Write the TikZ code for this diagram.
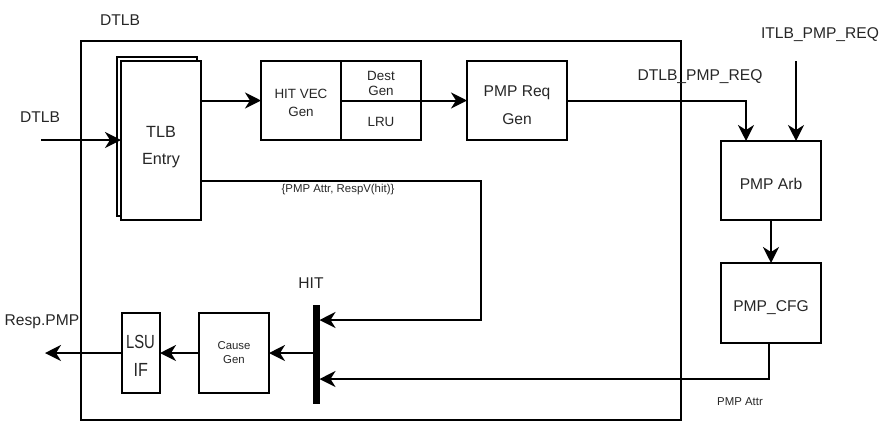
\documentclass[tikz,border=0pt]{standalone}
\usepackage{fontspec}
\setmainfont{Liberation Sans}
\usetikzlibrary{arrows.meta}
\begin{document}
\begin{tikzpicture}[x=1pt,y=-1pt,
  box/.style={draw=black,line width=2pt,inner sep=0pt,outer sep=0pt,rectangle},
  bigtxt/.style={font=\fontsize{15.6}{18}\selectfont},
  midtxt/.style={font=\fontsize{13.4}{16}\selectfont},
  smalltxt/.style={font=\fontsize{11.4}{13}\selectfont},
  lbl/.style={inner sep=0pt,text=black!85},
  t/.style={lbl,anchor=base},
  arr/.style={line width=2pt,-{Stealth[length=16pt,width=16pt,inset=5pt]}},
  plain/.style={line width=2pt}]
\useasboundingbox (0,0) rectangle (882,424);
% outer DTLB box
\node[box,minimum width=600pt,minimum height=379pt] (outer) at (381,230.5) {};
\node[lbl,bigtxt] (dtlbtitle) at (120,20) {DTLB};
% TLB entry (stacked)
\node[box,fill=white,minimum width=80pt,minimum height=159pt] (tlbback) at (157,136.5) {};
\node[box,fill=white,minimum width=80pt,minimum height=159pt] (tlb) at (161,140.5) {};
\node[t,font=\fontsize{16.2}{18}\selectfont] (tlbt1) at (161,137.7) {TLB};
\node[t,font=\fontsize{16.2}{18}\selectfont] (tlbt2) at (161,164.3) {Entry};
% HIT VEC / Dest Gen / LRU
\node[box,minimum width=80pt,minimum height=79pt] (hitvec) at (301,100.5) {};
\node[t,midtxt] (hitvect1) at (301,98.7) {HIT VEC};
\node[t,midtxt] (hitvect2) at (301,116) {Gen};
\node[box,minimum width=80pt,minimum height=40pt] (dest) at (381,81) {};
\node[t,midtxt] (destt1) at (381,80) {Dest};
\node[t,midtxt] (destt2) at (381,95.5) {Gen};
\node[box,minimum width=80pt,minimum height=39pt] (lru) at (381,120.5) {};
\node[t,midtxt] (lrut) at (381,126) {LRU};
% PMP Req Gen
\node[box,minimum width=100pt,minimum height=79pt] (pmpreq) at (517,100.5) {};
\node[t,bigtxt] (pmpreqt1) at (517,96) {PMP Req};
\node[t,bigtxt] (pmpreqt2) at (517,124.3) {Gen};
% PMP Arb & CFG
\node[box,minimum width=100pt,minimum height=79pt] (pmparb) at (771,180.5) {};
\node[t,bigtxt] (pmparbt) at (771,189.3) {PMP Arb};
\node[box,minimum width=100pt,minimum height=80pt] (pmpcfg) at (771,303) {};
\node[t,bigtxt] (pmpcfgt) at (771,311.5) {PMP\_CFG};
% HIT bar
\node[fill=black,inner sep=0pt,outer sep=0pt,minimum width=7pt,minimum height=99pt] (hitbar) at (316,354.5) {};
\node[lbl,bigtxt] (hitlbl) at (311,283) {HIT};
% Cause Gen, LSU IF
\node[box,minimum width=70pt,minimum height=80pt] (cause) at (234,353) {};
\node[t,smalltxt] (causet1) at (234,349.3) {Cause};
\node[t,smalltxt] (causet2) at (234,363.3) {Gen};
\node[box,minimum width=38pt,minimum height=80pt] (lsu) at (141,353) {};
\node[t,font=\fontsize{19}{20}\selectfont] (lsut1) at (140.5,348.3) {\scalebox{0.78}[1]{LSU}};
\node[t,font=\fontsize{19}{20}\selectfont] (lsut2) at (140.8,376.7) {\scalebox{0.85}[1]{IF}};
% labels
\node[lbl,bigtxt] (dtlbinlbl) at (40,117) {DTLB};
\node[lbl,bigtxt] (itlblbl) at (820,35) {ITLB\_PMP\_REQ};
\node[lbl,bigtxt] (dtlbreqlbl) at (700,77) {DTLB\_PMP\_REQ};
\node[lbl,smalltxt] (attrlbl) at (338,190) {\{PMP Attr, RespV(hit)\}};
\node[lbl,smalltxt] (pmpattrlbl) at (740,402) {PMP Attr};
\node[lbl,bigtxt] (resplbl) at (42,322) {Resp.PMP};
% coordinates
\coordinate (dtlbin) at (41,140);
\coordinate (itlbin) at (796,61);
\coordinate (respout) at (45,353);
\coordinate (yattr) at (0,181);
\coordinate (xattr) at (481,0);
\coordinate (yhit1) at (0,320);
\coordinate (ypmpattr) at (0,379);
% connectors
\draw[arr] (dtlbin) -- (tlb.west |- dtlbin);
\draw[arr] (hitvec.west -| tlb.east) -- (hitvec.west);
\draw[arr] (pmpreq.west -| lru.east) -- (pmpreq.west);
\draw[arr] (pmpreq.east) -| ([xshift=-25pt]pmparb.north);
\draw[arr,line width=1.6pt] (itlbin) -- (itlbin |- pmparb.north);
\draw[arr] (pmparb.south) -- (pmpcfg.north);
\draw[arr] ([xshift=-2pt]pmpcfg.south) |- (hitbar.east |- ypmpattr);
\draw[arr] (tlb.east |- yattr) -| (xattr |- yhit1) -- (hitbar.east |- yhit1);
\draw[arr] (hitbar.west |- cause.east) -- (cause.east);
\draw[arr] (cause.west) -- (lsu.east);
\draw[arr] (lsu.west) -- (respout);
\end{tikzpicture}
\end{document}
